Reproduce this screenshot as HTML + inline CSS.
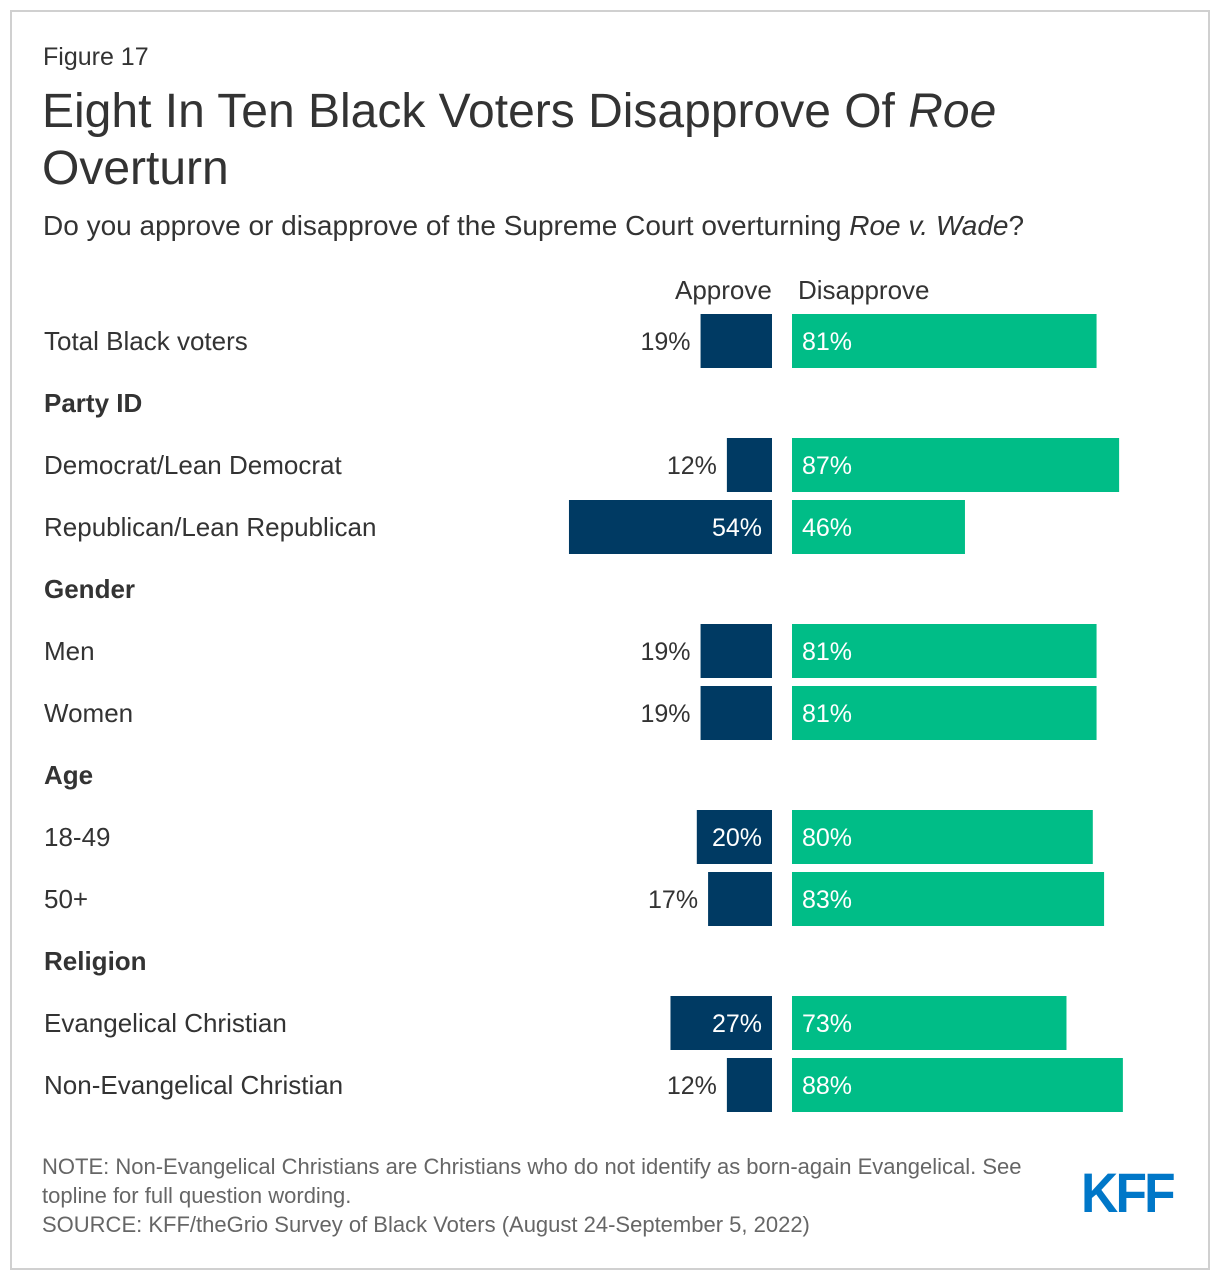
<!DOCTYPE html>
<html><head><meta charset="utf-8"><style>
body{margin:0;background:#fff;font-family:"Liberation Sans",Arial,sans-serif;color:#333;}
#frame{position:absolute;left:10px;top:10px;width:1196px;height:1256px;border:2px solid #d0d0d0;}
.t{position:absolute;white-space:nowrap;}
</style></head><body>
<div id="frame"></div>
<div class="t" style="left:43px;top:43px;font-size:25px;">Figure 17</div>
<div class="t" style="left:42px;top:83px;font-size:48px;line-height:57px;color:#333;">Eight In Ten Black Voters Disapprove Of <i>Roe</i><br>Overturn</div>
<div class="t" style="left:43px;top:210px;font-size:28px;">Do you approve or disapprove of the Supreme Court overturning <i>Roe v. Wade</i>?</div>
<div class="t" style="left:675px;top:275px;font-size:26px;">Approve</div>
<div class="t" style="left:798px;top:275px;font-size:26px;">Disapprove</div>
<svg id="chart" width="1220" height="1140" style="position:absolute;left:0;top:0"></svg>
<div class="t" style="left:42px;top:1152px;font-size:22px;line-height:29px;color:#666;">NOTE: Non-Evangelical Christians are Christians who do not identify as born-again Evangelical. See<br>topline for full question wording.<br>SOURCE: KFF/theGrio Survey of Black Voters (August 24-September 5, 2022)</div>
<div class="t" style="left:1081px;top:1160px;font-size:56px;font-weight:bold;color:#0077c8;letter-spacing:-3px;transform:scaleX(0.92);transform-origin:left;">KFF</div>
<script>
const categories=["Total Black voters","Party ID","Democrat/Lean Democrat","Republican/Lean Republican","Gender","Men","Women","Age","18-49","50+","Religion","Evangelical Christian","Non-Evangelical Christian"];
const isHeader=[false,true,false,false,true,false,false,true,false,false,true,false,false];
const approve=[19,null,12,54,null,19,19,null,20,17,null,27,12];
const disapprove=[81,null,87,46,null,81,81,null,80,83,null,73,88];
const svg=document.getElementById('chart');
const NS='http://www.w3.org/2000/svg';
const scale=3.76, axisA=772, axisD=792, y0=341, step=62, bh=54;
const yPos=i=>y0+i*step;
function mk(tag,attrs,txt){const e=document.createElementNS(NS,tag);for(const k in attrs)e.setAttribute(k,attrs[k]);if(txt!=null)e.textContent=txt;svg.appendChild(e);return e;}
categories.forEach((c,i)=>{
  const y=yPos(i);
  const lab=mk('text',{x:44,y:y+9,'font-size':26,'font-weight':isHeader[i]?'bold':'normal',fill:'#333','font-family':'Liberation Sans, Arial, sans-serif'},c);
  
  
  if(isHeader[i])return;
  const wa=approve[i]*scale;
  const ra=mk('rect',{x:axisA-wa,y:y-bh/2,width:wa,height:bh,fill:'#003a63'});
  
  
  const inside=approve[i]>=20;
  const ta=mk('text',{x:inside?axisA-10:axisA-wa-10,y:y+9,'text-anchor':'end','font-size':25,fill:inside?'#fff':'#333','font-family':'Liberation Sans, Arial, sans-serif'},approve[i]+'%');
  
  
  const wd=disapprove[i]*scale;
  const rd=mk('rect',{x:axisD,y:y-bh/2,width:wd,height:bh,fill:'#00bd87'});
  
  
  const td=mk('text',{x:axisD+10,y:y+9,'font-size':25,fill:'#fff','font-family':'Liberation Sans, Arial, sans-serif'},disapprove[i]+'%');
  
  
});
</script>
</body></html>
